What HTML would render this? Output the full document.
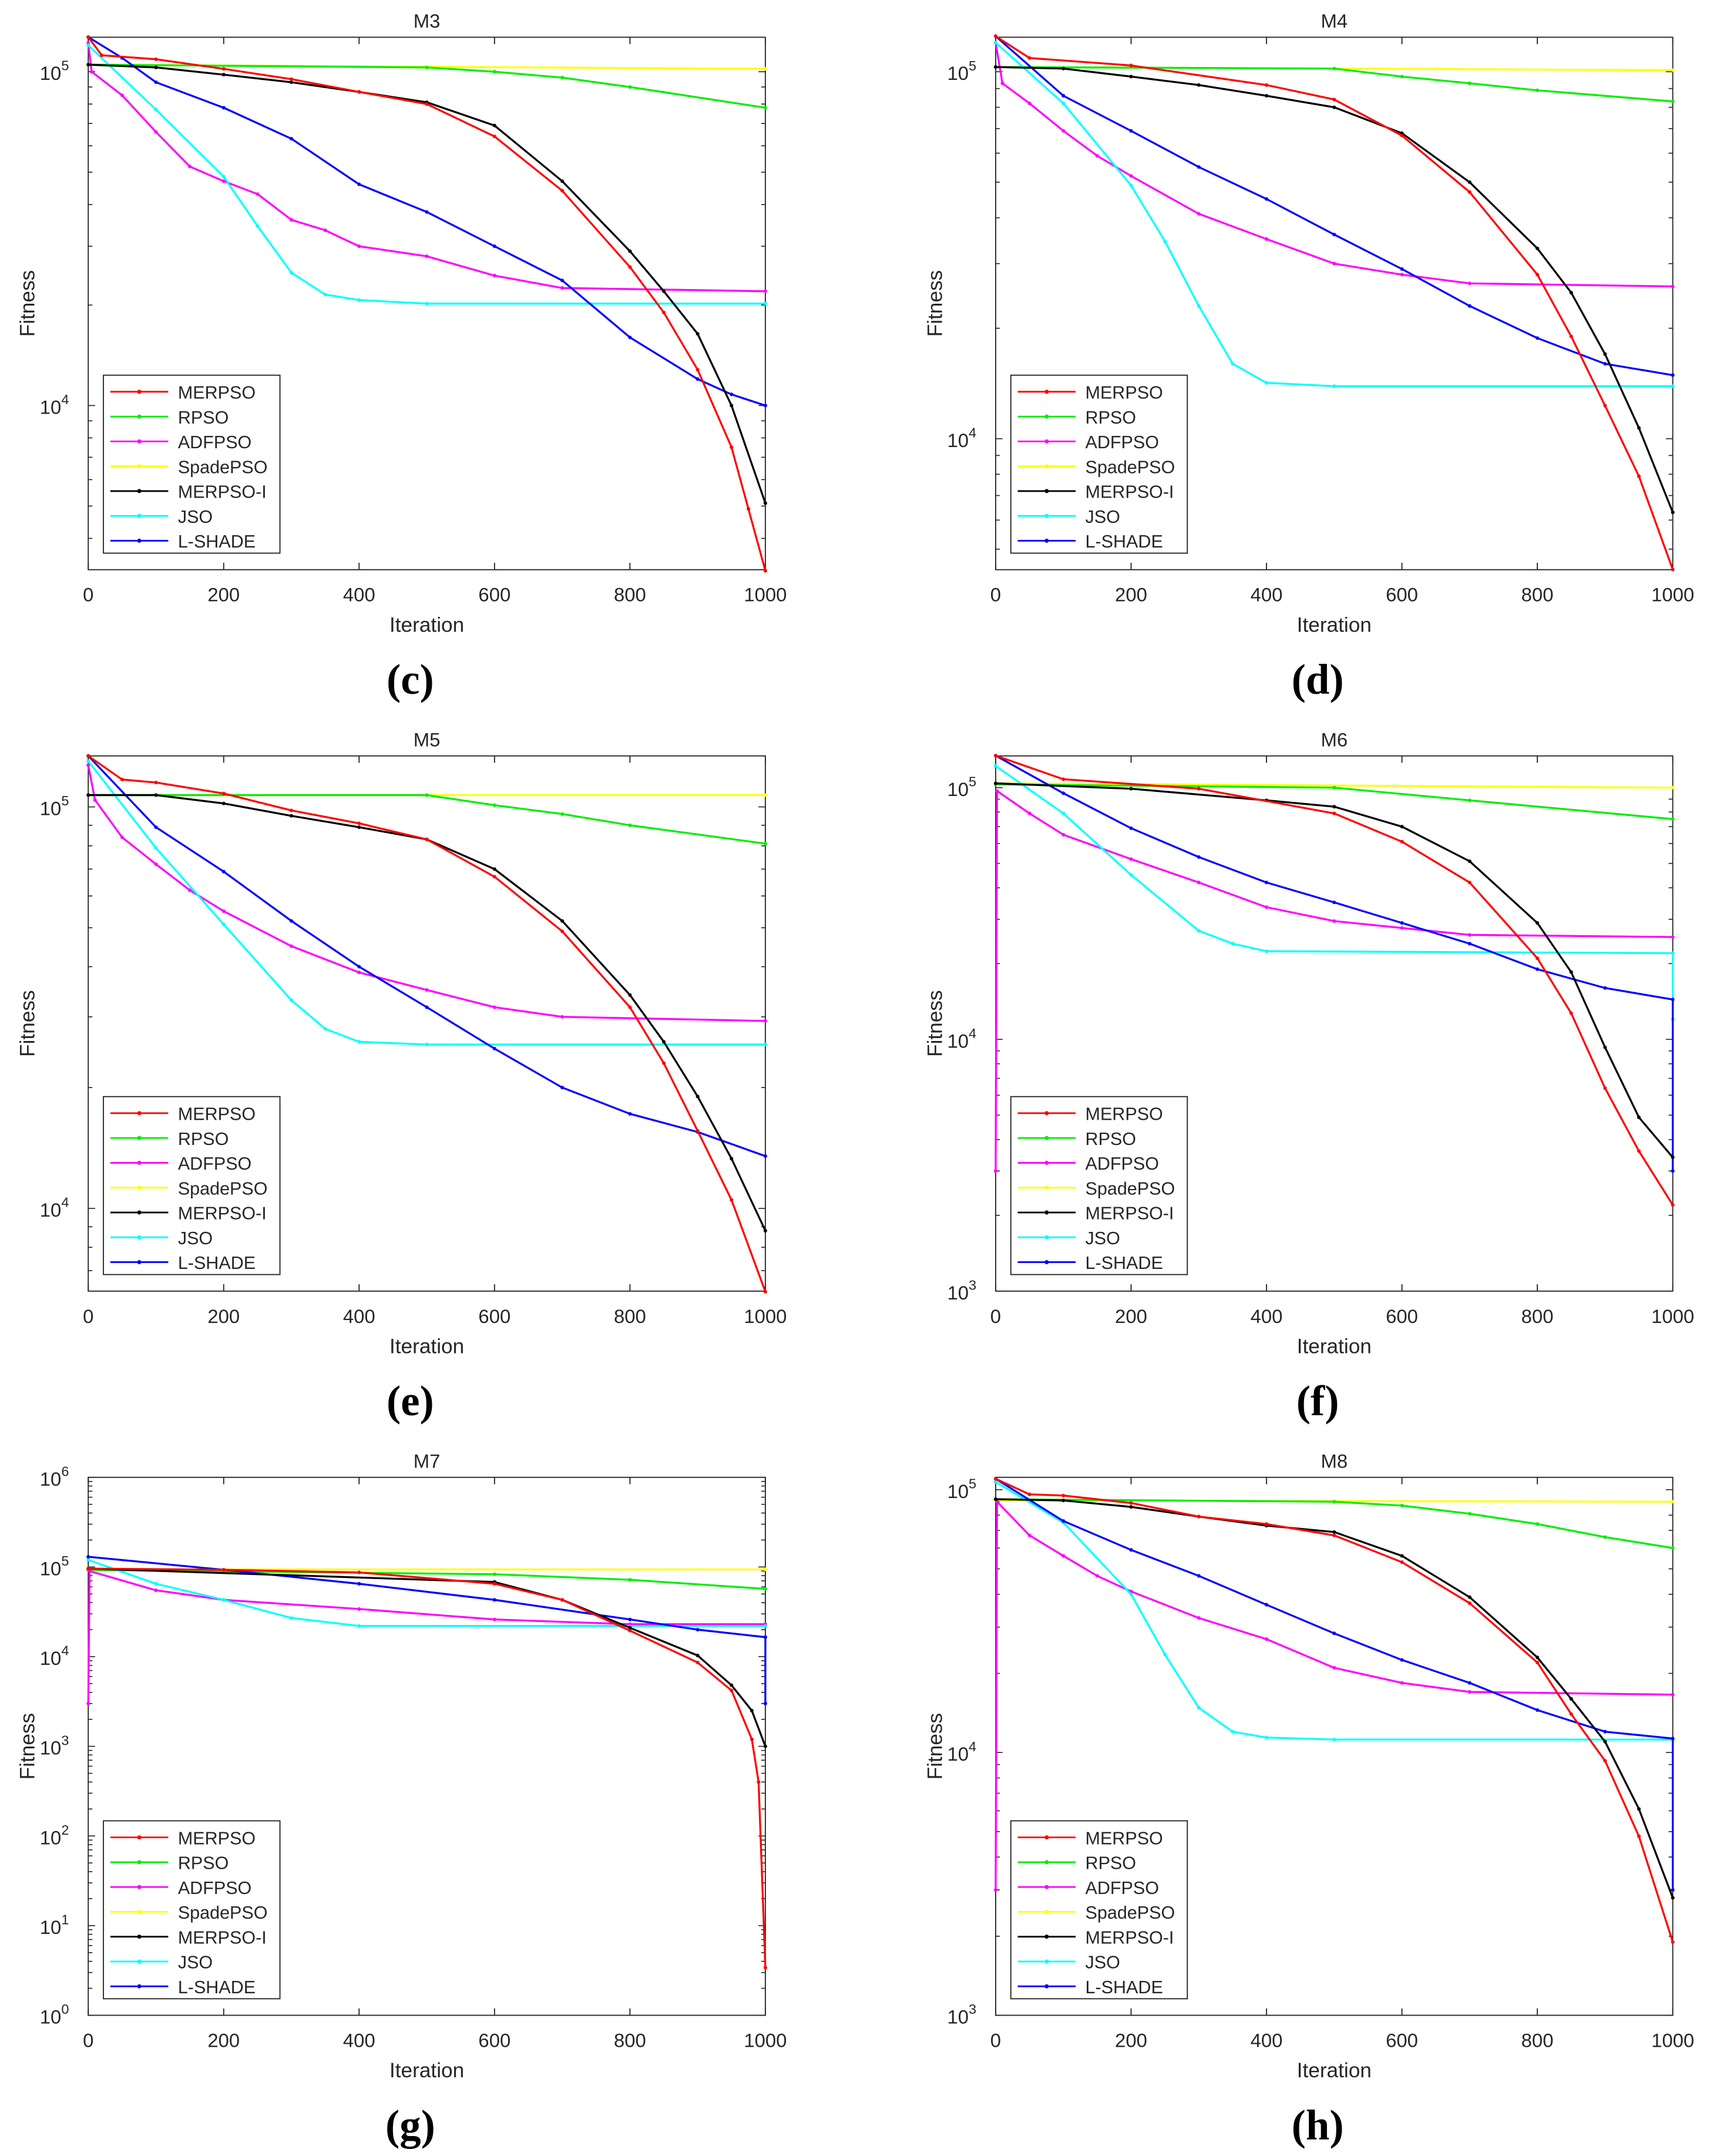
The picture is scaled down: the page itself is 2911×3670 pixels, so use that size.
<!DOCTYPE html>
<html><head><meta charset="utf-8"><style>
html,body{margin:0;padding:0;background:#fff;}
svg{display:block;}
text{font-family:"Liberation Sans",Arial,sans-serif;fill:#262626;}
text.tag{font-family:"Liberation Serif","DejaVu Serif",serif;font-weight:bold;fill:#000;}
</style></head><body>
<svg id="fig" width="2911" height="3670" viewBox="0 0 1240 1563" preserveAspectRatio="none" xmlns="http://www.w3.org/2000/svg"></svg>
<script>
// ---- data (iteration, fitness) ----
const seriesNames=['MERPSO','RPSO','ADFPSO','SpadePSO','MERPSO-I','JSO','L-SHADE'];
const seriesColors=['#ff0000','#00ee00','#ff00ff','#ffff00','#000000','#00ffff','#0000ff'];
const xTicks=[0,200,400,600,800,1000];

const m3_merpso=[[0,1.27e5],[20,1.12e5],[100,1.09e5],[200,1.02e5],[300,9.5e4],[400,8.7e4],[500,8e4],[600,6.4e4],[700,4.4e4],[800,2.6e4],[850,1.9e4],[900,1.28e4],[950,7.5e3],[975,4.9e3],[1000,3.2e3]];
const m3_rpso=[[0,1.05e5],[500,1.03e5],[600,1e5],[700,9.6e4],[800,9e4],[1000,7.8e4]];
const m3_adfpso=[[0,1.22e5],[5,1e5],[50,8.5e4],[100,6.6e4],[150,5.2e4],[200,4.7e4],[250,4.3e4],[300,3.6e4],[350,3.35e4],[400,3e4],[500,2.8e4],[600,2.45e4],[700,2.25e4],[1000,2.2e4]];
const m3_spade=[[0,1.05e5],[1000,1.02e5]];
const m3_merpsoi=[[0,1.05e5],[100,1.03e5],[200,9.8e4],[300,9.3e4],[400,8.7e4],[500,8.1e4],[600,6.9e4],[700,4.7e4],[800,2.9e4],[850,2.2e4],[900,1.64e4],[950,1e4],[1000,5.1e3]];
const m3_jso=[[0,1.2e5],[100,7.7e4],[200,4.85e4],[250,3.45e4],[300,2.5e4],[350,2.15e4],[400,2.07e4],[500,2.02e4],[1000,2.02e4]];
const m3_lshade=[[0,1.27e5],[50,1.1e5],[100,9.3e4],[200,7.8e4],[300,6.3e4],[400,4.6e4],[500,3.8e4],[600,3e4],[700,2.37e4],[800,1.6e4],[900,1.2e4],[950,1.08e4],[1000,1e4]];

const m4_merpso=[[0,1.25e5],[50,1.09e5],[200,1.04e5],[400,9.2e4],[500,8.4e4],[600,6.7e4],[700,4.7e4],[800,2.8e4],[850,1.9e4],[900,1.23e4],[950,7.9e3],[1000,4.4e3]];
const m4_rpso=[[0,1.03e5],[500,1.02e5],[600,9.7e4],[700,9.3e4],[800,8.9e4],[1000,8.3e4]];
const m4_adfpso=[[0,1.2e5],[10,9.3e4],[50,8.2e4],[100,6.9e4],[150,5.9e4],[200,5.2e4],[300,4.1e4],[400,3.5e4],[500,3e4],[600,2.8e4],[700,2.65e4],[1000,2.6e4]];
const m4_spade=[[0,1.03e5],[1000,1.01e5]];
const m4_merpsoi=[[0,1.03e5],[100,1.02e5],[200,9.7e4],[300,9.2e4],[400,8.6e4],[500,8e4],[600,6.8e4],[700,5e4],[800,3.3e4],[850,2.5e4],[900,1.7e4],[950,1.07e4],[1000,6.3e3]];
const m4_jso=[[0,1.2e5],[100,8.2e4],[200,4.9e4],[250,3.45e4],[300,2.3e4],[350,1.6e4],[400,1.42e4],[500,1.39e4],[1000,1.39e4]];
const m4_lshade=[[0,1.25e5],[100,8.6e4],[200,6.9e4],[300,5.5e4],[400,4.5e4],[500,3.6e4],[600,2.9e4],[700,2.3e4],[800,1.88e4],[900,1.6e4],[1000,1.49e4]];

const m5_merpso=[[0,1.34e5],[50,1.17e5],[100,1.15e5],[200,1.08e5],[300,9.8e4],[400,9.1e4],[500,8.3e4],[600,6.7e4],[700,4.9e4],[800,3.17e4],[850,2.3e4],[900,1.56e4],[950,1.05e4],[1000,6.2e3]];
const m5_rpso=[[0,1.07e5],[500,1.07e5],[600,1.01e5],[700,9.6e4],[800,9e4],[1000,8.1e4]];
const m5_adfpso=[[0,1.27e5],[10,1.04e5],[50,8.4e4],[100,7.2e4],[150,6.2e4],[200,5.5e4],[300,4.5e4],[400,3.87e4],[500,3.5e4],[600,3.17e4],[700,3e4],[1000,2.93e4]];
const m5_spade=[[0,1.07e5],[1000,1.07e5]];
const m5_merpsoi=[[0,1.07e5],[100,1.07e5],[200,1.02e5],[300,9.5e4],[400,8.9e4],[500,8.3e4],[600,7e4],[700,5.2e4],[800,3.4e4],[850,2.6e4],[900,1.9e4],[950,1.33e4],[1000,8.8e3]];
const m5_jso=[[0,1.3e5],[100,7.9e4],[200,5.1e4],[300,3.3e4],[350,2.8e4],[400,2.6e4],[500,2.56e4],[1000,2.56e4]];
const m5_lshade=[[0,1.34e5],[100,8.9e4],[200,6.9e4],[300,5.2e4],[400,4e4],[500,3.17e4],[600,2.5e4],[700,2e4],[800,1.72e4],[900,1.55e4],[1000,1.35e4]];

const m6_merpso=[[0,1.34e5],[100,1.08e5],[300,9.9e4],[500,7.9e4],[600,6.1e4],[700,4.2e4],[800,2.1e4],[850,1.27e4],[900,6.4e3],[950,3.6e3],[1000,2.2e3]];
const m6_rpso=[[0,1.03e5],[500,1.0e5],[700,8.9e4],[1000,7.5e4]];
const m6_adfpso=[[0,3e3],[2,9.7e4],[50,7.9e4],[100,6.5e4],[200,5.2e4],[300,4.2e4],[400,3.35e4],[500,2.95e4],[600,2.77e4],[700,2.6e4],[1000,2.55e4]];
const m6_spade=[[0,1.04e5],[1000,1.0e5]];
const m6_merpsoi=[[0,1.04e5],[200,9.9e4],[400,8.9e4],[500,8.4e4],[600,7e4],[700,5.1e4],[800,2.9e4],[850,1.85e4],[900,9.3e3],[950,4.9e3],[1000,3.4e3]];
const m6_jso=[[0,1.22e5],[100,7.9e4],[200,4.5e4],[300,2.7e4],[350,2.4e4],[400,2.24e4],[1000,2.2e4],[1001,1.2e4]];
const m6_lshade=[[0,1.34e5],[100,9.5e4],[200,6.9e4],[300,5.3e4],[400,4.2e4],[500,3.5e4],[600,2.9e4],[700,2.4e4],[800,1.9e4],[900,1.6e4],[1000,1.44e4],[1001,3e3]];

const m7_merpso=[[0,9.6e4],[200,9.3e4],[400,8.7e4],[600,6.5e4],[700,4.3e4],[800,1.95e4],[900,8.6e3],[950,4.2e3],[980,1.2e3],[990,4e2],[1000,3.4]];
const m7_rpso=[[0,9.3e4],[600,8.3e4],[800,7.2e4],[1000,5.7e4]];
const m7_adfpso=[[0,3e3],[2,9e4],[100,5.5e4],[200,4.3e4],[400,3.4e4],[600,2.6e4],[800,2.3e4],[1000,2.3e4]];
const m7_spade=[[0,9.4e4],[1000,9.4e4]];
const m7_merpsoi=[[0,9.6e4],[600,6.8e4],[700,4.3e4],[800,2.1e4],[900,1.03e4],[950,4.8e3],[980,2.5e3],[1000,1e3]];
const m7_jso=[[0,1.2e5],[100,6.5e4],[200,4.3e4],[300,2.7e4],[400,2.2e4],[1000,2.2e4]];
const m7_lshade=[[0,1.3e5],[200,9.3e4],[400,6.5e4],[600,4.3e4],[800,2.6e4],[900,2e4],[1000,1.65e4],[1001,3e3]];

const m8_merpso=[[0,1.1e5],[50,9.6e4],[100,9.5e4],[200,8.9e4],[300,7.9e4],[400,7.4e4],[500,6.7e4],[600,5.3e4],[700,3.7e4],[800,2.2e4],[850,1.4e4],[900,9.3e3],[950,4.8e3],[1000,1.9e3]];
const m8_rpso=[[0,9.2e4],[500,9e4],[600,8.7e4],[700,8.1e4],[800,7.4e4],[900,6.6e4],[1000,6e4]];
const m8_adfpso=[[0,3e3],[2,9e4],[50,6.7e4],[100,5.6e4],[150,4.7e4],[200,4.1e4],[300,3.25e4],[400,2.7e4],[500,2.1e4],[600,1.84e4],[700,1.7e4],[1000,1.66e4]];
const m8_spade=[[0,9.1e4],[1000,9e4]];
const m8_merpsoi=[[0,9.2e4],[100,9.1e4],[200,8.6e4],[300,7.9e4],[400,7.3e4],[500,6.9e4],[600,5.6e4],[700,3.9e4],[800,2.3e4],[850,1.6e4],[900,1.1e4],[950,6.1e3],[1000,2.8e3]];
const m8_jso=[[0,1.07e5],[100,7.5e4],[200,4e4],[250,2.36e4],[300,1.48e4],[350,1.2e4],[400,1.14e4],[500,1.12e4],[1000,1.12e4]];
const m8_lshade=[[0,1.1e5],[100,7.6e4],[200,5.9e4],[300,4.7e4],[400,3.65e4],[500,2.84e4],[600,2.25e4],[700,1.84e4],[800,1.45e4],[900,1.2e4],[1000,1.13e4],[1001,3e3]];

// ---- layout ----
const panels=[
 {title:'M3',tag:'(c)',x0:64,x1:555,y0:27,y1:413,lmin:3.5083,lmax:5.1033,dec:[4,5],s:[m3_merpso,m3_rpso,m3_adfpso,m3_spade,m3_merpsoi,m3_jso,m3_lshade]},
 {title:'M4',tag:'(d)',x0:722,x1:1213,y0:27,y1:413,lmin:3.643,lmax:5.094,dec:[4,5],s:[m4_merpso,m4_rpso,m4_adfpso,m4_spade,m4_merpsoi,m4_jso,m4_lshade]},
 {title:'M5',tag:'(e)',x0:64,x1:555,y0:548,y1:936,lmin:3.794,lmax:5.127,dec:[4,5],s:[m5_merpso,m5_rpso,m5_adfpso,m5_spade,m5_merpsoi,m5_jso,m5_lshade]},
 {title:'M6',tag:'(f)',x0:722,x1:1213,y0:548,y1:936,lmin:3,lmax:5.126,dec:[3,4,5],s:[m6_merpso,m6_rpso,m6_adfpso,m6_spade,m6_merpsoi,m6_jso,m6_lshade]},
 {title:'M7',tag:'(g)',x0:64,x1:555,y0:1071,y1:1461,lmin:0,lmax:6,dec:[0,1,2,3,4,5,6],s:[m7_merpso,m7_rpso,m7_adfpso,m7_spade,m7_merpsoi,m7_jso,m7_lshade]},
 {title:'M8',tag:'(h)',x0:722,x1:1213,y0:1071,y1:1461,lmin:3,lmax:5.047,dec:[3,4,5],s:[m8_merpso,m8_rpso,m8_adfpso,m8_spade,m8_merpsoi,m8_jso,m8_lshade]}
];
const NS='http://www.w3.org/2000/svg';
const svg=document.getElementById('fig');
function mk(tag,attrs,parent){const e=document.createElementNS(NS,tag);for(const k in attrs)e.setAttribute(k,attrs[k]);(parent||svg).appendChild(e);return e;}

panels.forEach((p,pi)=>{
 const g=mk('g',{});
 
 
 const xs=v=>p.x0+(Math.min(v,1000)/1000)*(p.x1-p.x0);
 const ys=v=>p.y1-(Math.log10(v)-p.lmin)/(p.lmax-p.lmin)*(p.y1-p.y0);
 const box=mk('rect',{x:p.x0,y:p.y0,width:p.x1-p.x0,height:p.y1-p.y0,fill:'#fff',stroke:'#262626','stroke-width':0.8},g);
 
 
 xTicks.forEach(t=>{
  const x=xs(t);
  mk('line',{x1:x,x2:x,y1:p.y1,y2:p.y1-5,stroke:'#262626','stroke-width':0.8},g);
  mk('line',{x1:x,x2:x,y1:p.y0,y2:p.y0+5,stroke:'#262626','stroke-width':0.8},g);
  const tl=mk('text',{x:x,y:p.y1+23,'font-size':14,'text-anchor':'middle'},g);
  tl.textContent=t;
  
  
 });
 for(let d=Math.floor(p.lmin);d<=Math.ceil(p.lmax);d++){
  for(let m=1;m<10;m++){
   const lv=d+Math.log10(m);
   if(lv<p.lmin-1e-6||lv>p.lmax+1e-6)continue;
   const y=p.y1-(lv-p.lmin)/(p.lmax-p.lmin)*(p.y1-p.y0);
   const len=m===1?5:3;
   mk('line',{x1:p.x0,x2:p.x0+len,y1:y,y2:y,stroke:'#262626','stroke-width':0.7},g);
   mk('line',{x1:p.x1,x2:p.x1-len,y1:y,y2:y,stroke:'#262626','stroke-width':0.7},g);
  }
 }
 p.dec.forEach(d=>{
  const y=p.y1-(d-p.lmin)/(p.lmax-p.lmin)*(p.y1-p.y0);
  const t=mk('text',{x:p.x0-14,y:y+6,'font-size':14,'text-anchor':'end'},g);
  
  
  t.appendChild(document.createTextNode('10'));
  const sp=mk('tspan',{dy:-7,'font-size':10},t);sp.textContent=d;
 });
 const ti=mk('text',{x:(p.x0+p.x1)/2,y:p.y0-7,'font-size':14,'text-anchor':'middle'},g);
 ti.textContent=p.title;
 
 
 const xl=mk('text',{x:(p.x0+p.x1)/2,y:p.y1+45,'font-size':15,'text-anchor':'middle'},g);
 xl.textContent='Iteration';
 
 
 const yl=mk('text',{x:0,y:0,'font-size':15,'text-anchor':'middle',transform:'translate('+(p.x0-39)+','+((p.y0+p.y1)/2)+') rotate(-90)'},g);
 yl.textContent='Fitness';
 
 
 const tg=mk('text',{x:(p.x0+p.x1)/2-12,y:p.y1+90,'font-size':31,'text-anchor':'middle','class':'tag'},g);
 tg.textContent=p.tag;
 
 
 const order=[3,1,2,5,6,4,0];
 order.forEach(si=>{
  const data=p.s[si];
  const pts=data.map(d=>xs(d[0]).toFixed(2)+','+ys(d[1]).toFixed(2)).join(' ');
  const pl=mk('polyline',{points:pts,fill:'none',stroke:seriesColors[si],'stroke-width':1.4,'stroke-linejoin':'round'},g);
  
  
  data.forEach(d=>{
   const c=mk('circle',{cx:xs(d[0]),cy:ys(d[1]),r:1.3,fill:seriesColors[si]},g);
   
   
  });
 });
 const lx=p.x0+11, ly=p.y1-141;
 const lg=mk('g',{},g);
 
 
 mk('rect',{x:lx,y:ly,width:128,height:129,fill:'#fff',stroke:'#262626','stroke-width':0.8},lg);
 seriesNames.forEach((n,i)=>{
  const y=ly+12+i*18;
  const e=mk('g',{},lg);
  
  
  mk('line',{x1:lx+5,x2:lx+47,y1:y,y2:y,stroke:seriesColors[i],'stroke-width':1.2},e);
  mk('circle',{cx:lx+26,cy:y,r:1.5,fill:seriesColors[i]},e);
  const t=mk('text',{x:lx+54,y:y+5,'font-size':13},e);
  t.textContent=n;
 });
});
</script>
</body></html>
